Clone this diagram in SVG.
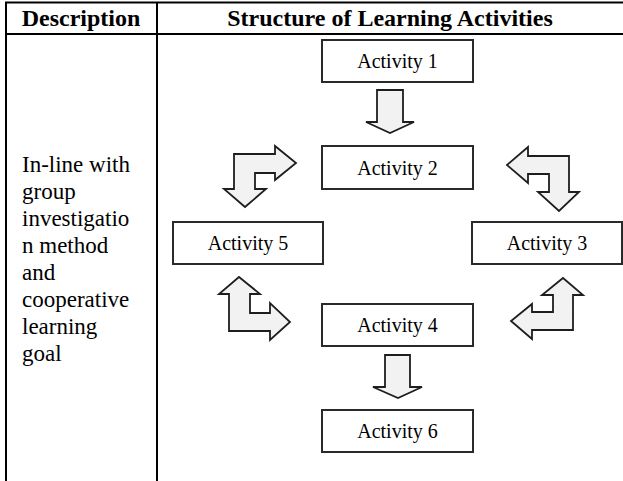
<svg xmlns="http://www.w3.org/2000/svg" width="623" height="481" viewBox="0 0 623 481">
<style>
.tbl{stroke:#000;stroke-width:2;fill:none}
.hdr{font-family:"Liberation Serif",serif;font-weight:bold;font-size:24px;fill:#000}
.desc{font-family:"Liberation Serif",serif;font-size:23px;fill:#000}
.box{fill:#fff;stroke:#2a2a2a;stroke-width:2}
.lbl{font-family:"Liberation Serif",serif;font-size:20px;fill:#000;text-anchor:middle}
.arr{fill:#f2f2f2;stroke:#1e1e1e;stroke-width:1.8;stroke-linejoin:miter}
</style>
<rect width="623" height="481" fill="#fff"/>
<g id="table">
<line class="tbl" x1="5" y1="2.5" x2="623" y2="2.5"/>
<line class="tbl" x1="5" y1="34" x2="623" y2="34"/>
<line class="tbl" x1="6" y1="2" x2="6" y2="481"/>
<line class="tbl" x1="157" y1="2" x2="157" y2="481"/>
<text class="hdr" x="81" y="26" text-anchor="middle">Description</text>
<text class="hdr" x="390" y="26" text-anchor="middle">Structure of Learning Activities</text>
</g>
<g id="description">
<text class="desc" x="22" y="172">In-line with</text>
<text class="desc" x="22" y="199">group</text>
<text class="desc" x="22" y="226">investigatio</text>
<text class="desc" x="22" y="253">n method</text>
<text class="desc" x="22" y="280">and</text>
<text class="desc" x="22" y="307">cooperative</text>
<text class="desc" x="22" y="334">learning</text>
<text class="desc" x="22" y="361">goal</text>
</g>
<g id="connectors">
<polygon class="arr" points="377,90 403,90 403,122 414,122 390,133 366,122 377,122"/>
<polygon class="arr" points="234,154 275,154 275,146 296,163 275,180 275,173 255,173 255,189 266,189 245,207 224,189 234,189"/>
<polygon class="arr" points="507,165 528,147 528,156 569,156 569,192 579,192 559,211 538,192 549,192 549,174 528,174 528,183"/>
<polygon class="arr" points="239,277 260,294 250,294 250,313 270,313 270,303 290,322 270,340 270,331 229,331 229,294 219,294"/>
<polygon class="arr" points="563,278 583,295 573,295 573,330 532,330 532,339 511,321 532,304 532,312 553,312 553,295 542,295"/>
<polygon class="arr" points="385,355 410,355 410,387 422,387 398,398 373,387 385,387"/>
</g>
<g id="activity1"><rect class="box" x="322" y="40" width="151" height="42"/><text class="lbl" x="397.5" y="68">Activity 1</text></g>
<g id="activity2"><rect class="box" x="322" y="146" width="151" height="43"/><text class="lbl" x="397.5" y="175">Activity 2</text></g>
<g id="activity5"><rect class="box" x="173" y="222" width="150" height="42"/><text class="lbl" x="248" y="250">Activity 5</text></g>
<g id="activity3"><rect class="box" x="472" y="222" width="150" height="42"/><text class="lbl" x="547" y="250">Activity 3</text></g>
<g id="activity4"><rect class="box" x="322" y="304" width="151" height="42"/><text class="lbl" x="397.5" y="332">Activity 4</text></g>
<g id="activity6"><rect class="box" x="322" y="410" width="151" height="42"/><text class="lbl" x="397.5" y="438">Activity 6</text></g>
</svg>
